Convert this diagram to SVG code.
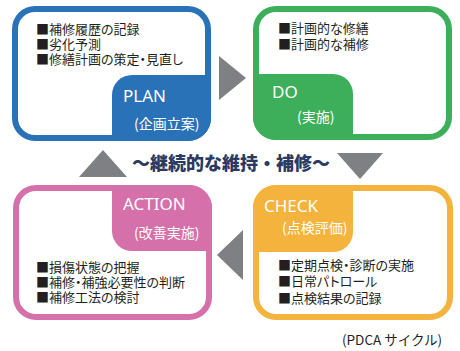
<svg xmlns="http://www.w3.org/2000/svg" width="460" height="351" viewBox="0 0 460 351">
<defs>
<style>
.box{fill:#ffffff;stroke-width:6}
.body{font-family:"Noto Sans CJK JP","Noto Sans",sans-serif;font-size:13px;fill:#231f20;font-feature-settings:"palt"}
.lab{font-family:"Noto Sans","Noto Sans CJK JP",sans-serif;font-size:17px;fill:#ffffff}
.sub{font-family:"Noto Sans CJK JP",sans-serif;font-size:14px;fill:#ffffff}
.arrow{fill:#7f8083}
</style>
</defs>
<rect width="460" height="351" fill="#ffffff"/>
<g id="connectors">
<polygon class="arrow" points="219,56 219,100 246,78"/>
<polygon class="arrow" points="337,153 383,153 360,179"/>
<polygon class="arrow" points="243,230 243,280 217,255"/>
<polygon class="arrow" points="79,177 127,177 103,150"/>
</g>
<g id="title">
<text x="231" y="170" text-anchor="middle" font-family="Noto Sans CJK JP,sans-serif" font-size="18" font-weight="900" fill="#2b3a5f">～継続的な維持・補修～</text>
</g>
<g id="plan">
<rect class="box" x="15" y="9" width="193" height="129" rx="20" stroke="#2a72b8"/>
<path d="M112,141 L112,95 A20,20 0 0 1 132,75 L211,75 L211,118 A23,23 0 0 1 188,141 Z" fill="#2a72b8"/>
<text class="body"><tspan x="36" y="34">■補修履歴の記録</tspan><tspan x="36" y="49">■劣化予測</tspan><tspan x="36" y="64">■修繕計画の策定・見直し</tspan></text>
<text class="lab" x="123" y="102">PLAN</text>
<text class="sub" x="134" y="129">(企画立案)</text>
</g>
<g id="do">
<rect class="box" x="256" y="9" width="193" height="128" rx="20" stroke="#3daf5b"/>
<path d="M253,74 L333,74 A20,20 0 0 1 353,94 L353,140 L276,140 A23,23 0 0 1 253,117 Z" fill="#3daf5b"/>
<text class="body"><tspan x="278" y="33">■計画的な修繕</tspan><tspan x="278" y="49">■計画的な補修</tspan></text>
<text class="lab" x="272" y="98">DO</text>
<text class="sub" x="297" y="122">(実施)</text>
</g>
<g id="action">
<rect class="box" x="16" y="188" width="193" height="129" rx="20" stroke="#d670aa"/>
<path d="M112,185 L189,185 A23,23 0 0 1 212,208 L212,251 L132,251 A20,20 0 0 1 112,231 Z" fill="#d670aa"/>
<text class="body"><tspan x="36" y="272">■損傷状態の把握</tspan><tspan x="36" y="287">■補修・補強必要性の判断</tspan><tspan x="36" y="302">■補修工法の検討</tspan></text>
<text class="lab" x="123" y="210">ACTION</text>
<text class="sub" x="134" y="238">(改善実施)</text>
</g>
<g id="check">
<rect class="box" x="256" y="188" width="194" height="129" rx="20" stroke="#f3b33c"/>
<path d="M253,208 A23,23 0 0 1 276,185 L353,185 L353,232 A20,20 0 0 1 333,252 L253,252 Z" fill="#f3b33c"/>
<text class="body"><tspan x="278" y="270">■定期点検・診断の実施</tspan><tspan x="278" y="286">■日常パトロール</tspan><tspan x="278" y="303">■点検結果の記録</tspan></text>
<text class="lab" x="264" y="212">CHECK</text>
<text class="sub" x="282" y="233">(点検評価)</text>
</g>
<g id="footer">
<text x="342" y="345" font-family="Noto Sans CJK JP,sans-serif" font-size="13.5" fill="#231f20">(PDCA サイクル)</text>
</g>
</svg>
